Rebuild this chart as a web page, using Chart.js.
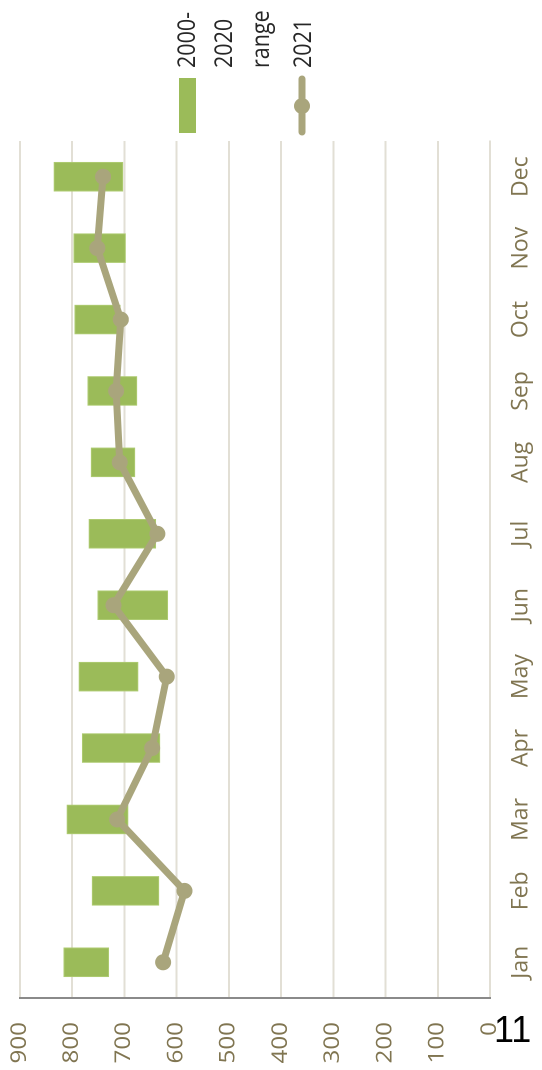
<!DOCTYPE html>
<html>
<head>
<meta charset="utf-8">
<script src="https://cdn.jsdelivr.net/npm/chart.js@4.4.1/dist/chart.umd.min.js"></script>
<style>
    html, body { margin: 0; padding: 0; background: #fff; overflow: hidden; }
    body { width: 542px; height: 1070px; position: relative; }
    /* o gráfico é desenhado "deitado" e girado 90° */
    #caixa { position: absolute; left: 0; top: 0; width: 1070px; height: 542px;
             transform-origin: 0 0; transform: translate(0, 1070px) rotate(-90deg); }
    #numero { position: absolute; left: 494px; top: 1012px; font: 36px/36px "Liberation Sans", Arial, sans-serif; color: #000; }
</style>
</head>
<body>
<div id="caixa"><canvas id="grafico" width="1070" height="542"></canvas></div>
<div id="numero">11</div>
<script>
// Dados
const meses = ['Jan', 'Feb', 'Mar', 'Apr', 'May', 'Jun', 'Jul', 'Aug', 'Sep', 'Oct', 'Nov', 'Dec'];
const faixaMin = [730, 634, 693, 632, 674, 617, 640, 680, 676, 708, 698, 703];
const faixaMax = [816, 762, 810, 781, 787, 751, 768, 764, 770, 795, 797, 835];
const valores2021 = [626, 585, 714, 647, 619, 721, 637, 709, 716, 707, 752, 741];
const rotulosEixo = ['0', '100', '200', '300', '400', '500', '600', '700', '800', '900'];

const corBarra = '#9bbb59';
const corLinha = '#a9a57c';
const corTexto = '#807551';
const corGrade = '#e2dfd5';

// Rótulos do eixo de valores e legenda desenhados à mão
const extras = {
    id: 'extras',
    afterDraw(chart) {
        const ctx = chart.ctx;
        const y = chart.scales.y;
        const area = chart.chartArea;

        // números do eixo (um pouco esticados no comprimento, como no original)
        ctx.save();
        ctx.fillStyle = corTexto;
        ctx.font = '22px "Open Sans"';
        ctx.textAlign = 'right';
        ctx.textBaseline = 'alphabetic';
        rotulosEixo.forEach(function(r) {
            const py = y.getPixelForValue(parseFloat(r));
            ctx.save();
            ctx.translate(area.left - 24, py + 5.8);
            ctx.scale(1.1, 1);
            ctx.fillText(r, 0, 0);
            ctx.restore();
        });
        ctx.restore();

        // legenda
        ctx.save();
        ctx.fillStyle = corBarra;
        ctx.fillRect(937, 179, 55, 17);

        ctx.strokeStyle = corLinha;
        ctx.lineWidth = 7;
        ctx.lineCap = 'round';
        ctx.beginPath();
        ctx.moveTo(938, 302);
        ctx.lineTo(991, 302);
        ctx.stroke();
        ctx.fillStyle = corLinha;
        ctx.beginPath();
        ctx.arc(964, 302, 8, 0, Math.PI * 2);
        ctx.fill();

        ctx.fillStyle = '#262626';
        ctx.font = '25px "Open Sans"';
        ctx.textAlign = 'left';
        ctx.textBaseline = 'alphabetic';
        const linhas = chart.data.datasets[1].label.replace('-', '- ').split(' ');
        const escrever = function(t, x, yb) {
            ctx.save();
            ctx.translate(x, yb);
            ctx.scale(0.86, 1);
            ctx.fillText(t, 0, 0);
            ctx.restore();
        };
        linhas.forEach(function(t, i) {
            escrever(t, 1002, 195 + i * 37);
        });
        escrever(chart.data.datasets[0].label, 1002, 311);
        ctx.restore();
    }
};

const ctx = document.getElementById('grafico').getContext('2d');

const grafico = new Chart(ctx, {
    data: {
        labels: meses,
        datasets: [{
            type: 'line',
            label: '2021',
            data: valores2021,
            borderColor: corLinha,
            backgroundColor: corLinha,
            borderWidth: 7,
            borderJoinStyle: 'round',
            borderCapStyle: 'round',
            pointRadius: 8,
            pointBorderWidth: 0,
            pointBackgroundColor: corLinha,
            tension: 0,
            order: 0
        }, {
            type: 'bar',
            label: '2000-2020 range',
            data: faixaMin.map(function(v, i) { return [v, faixaMax[i]]; }),
            backgroundColor: corBarra,
            borderColor: '#aecb72',
            borderWidth: 1,
            borderSkipped: false,
            barThickness: 29,
            order: 1
        }]
    },
    options: {
        responsive: false,
        animation: false,
        devicePixelRatio: 2,
        layout: { padding: { top: 20, right: 141, left: 0, bottom: 0 } },
        plugins: {
            legend: { display: false },
            tooltip: { enabled: false }
        },
        scales: {
            x: {
                offset: true,
                grid: { display: false, drawTicks: false },
                border: { display: true, color: corGrade, width: 2 },
                ticks: {
                    color: corTexto,
                    font: { family: 'Open Sans', size: 23 },
                    padding: 17,
                    maxRotation: 0,
                    autoSkip: false
                },
                afterFit: function(s) { s.height = 52; }
            },
            y: {
                min: 0,
                max: 900,
                ticks: { stepSize: 100, display: false },
                grid: { color: corGrade, lineWidth: 2, drawTicks: false },
                border: { display: true, color: '#8a8a8a', width: 2 },
                afterFit: function(s) { s.width = 72; }
            }
        }
    },
    plugins: [extras]
});
</script>
</body>
</html>
